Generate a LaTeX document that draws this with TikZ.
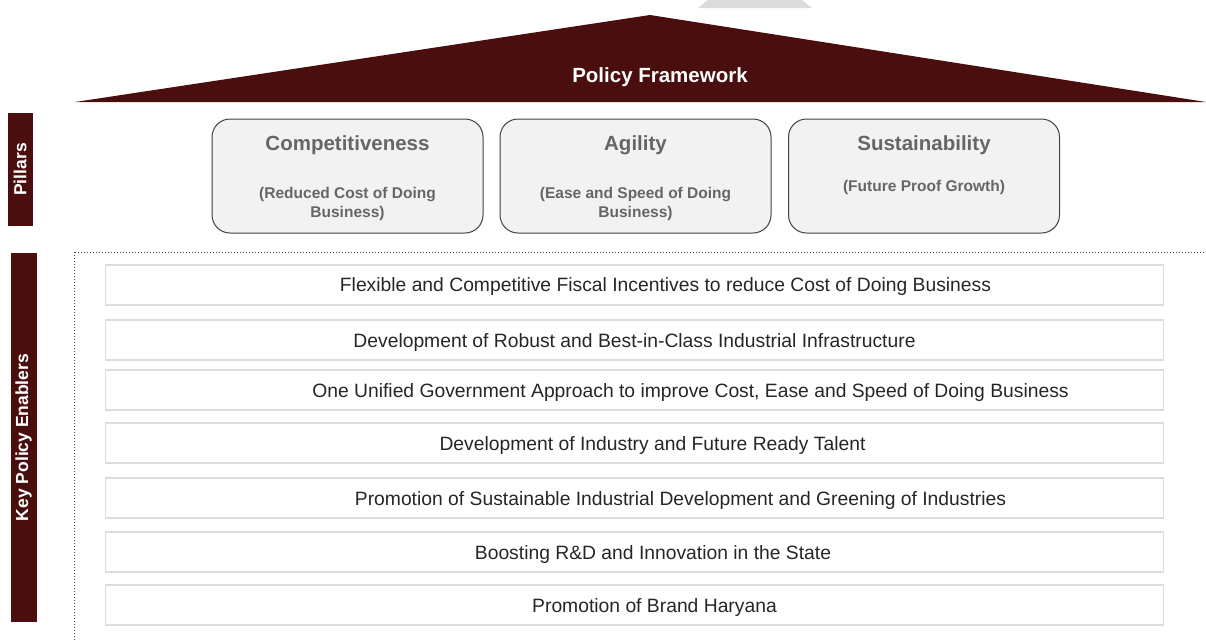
\documentclass[tikz,border=0pt]{standalone}
\usepackage{fontspec}
\setmainfont{Liberation Sans}
\usetikzlibrary{positioning}
\definecolor{roofred}{HTML}{4A0E0E}
\definecolor{pillarfill}{HTML}{F2F2F2}
\definecolor{pillartext}{HTML}{666666}
\definecolor{enablerline}{HTML}{DCDCDC}
\definecolor{dotline}{HTML}{2E4A66}

\begin{document}
\begin{tikzpicture}[x=1pt,y=-1pt,
    sidebar/.style = {fill=roofred, text=white, font=\bfseries\fontsize{17.5}{20}\selectfont, rotate=90, inner sep=0pt},
    pillarbox/.style = {draw=black!75, fill=pillarfill, line width=1pt, rounded corners=18pt, minimum width=271pt, minimum height=114pt},
    pillartitle/.style = {text=pillartext, font=\bfseries\fontsize{20.5}{24}\selectfont},
    pillarsub/.style = {text=pillartext, font=\bfseries\fontsize{15.5}{19}\selectfont, align=center},
    enablerbox/.style = {draw=enablerline, line width=1.5pt, minimum width=1058pt, minimum height=40pt},
    enablertext/.style = {text=black!85, font=\fontsize{19.3}{22}\selectfont}]
\useasboundingbox (0,0) rectangle (1206,641);
% roof
\fill[black!14] (708,0) -- (802,0) -- (812,8) -- (698,8) -- cycle;
\fill[roofred] (75,102) -- (650,15) -- (1206,102) -- cycle;
\node (roof) at (660,77) [text=white, font=\bfseries\fontsize{20.5}{24}\selectfont] {Policy Framework};
% side labels
\node (pillars) at (20,169.5) [sidebar, minimum width=113pt, minimum height=25pt] {Pillars};
\node (enablers) at (23.5,437.5) [sidebar, minimum width=369pt, minimum height=26pt] {Key Policy Enablers};
% pillars
\node (comp) at (347.5,176) [pillarbox] {};
\node (agil) at (635.5,176) [pillarbox] {};
\node (sust) at (924,176) [pillarbox] {};
\node (compT) at (347.5,145) [pillartitle] {Competitiveness};
\node (agilT) at (635.5,145) [pillartitle] {Agility};
\node (sustT) at (924,145) [pillartitle] {Sustainability};
\node (compS) at (347.5,203.5) [pillarsub] {(Reduced Cost of Doing\\Business)};
\node (agilS) at (635.5,203.5) [pillarsub] {(Ease and Speed of Doing\\Business)};
\node (sustS) at (924,187.5) [pillarsub] {(Future Proof Growth)};
% enablers
\draw[dotline, dotted, line width=1pt] (74,252) rectangle (1230,660);
\foreach \i/\by/\cx/\txt in {
    1/285/665.5/{Flexible and Competitive Fiscal Incentives to reduce Cost of Doing Business},
    2/340/634.5/{Development of Robust and Best-in-Class Industrial Infrastructure},
    3/390/690.5/{One Unified Government Approach to improve Cost, Ease and Speed of Doing Business},
    4/443/652.5/{Development of Industry and Future Ready Talent},
    5/498/680.5/{Promotion of Sustainable Industrial Development and Greening of Industries},
    6/552/653/{Boosting R\&D and Innovation in the State},
    7/605/654.5/{Promotion of Brand Haryana}} {
    \node (en\i) at (634.5,\by) [enablerbox] {};
    \node (ent\i) at (\cx,\by+2) [enablertext] {\txt};
}
\end{tikzpicture}
\end{document}
